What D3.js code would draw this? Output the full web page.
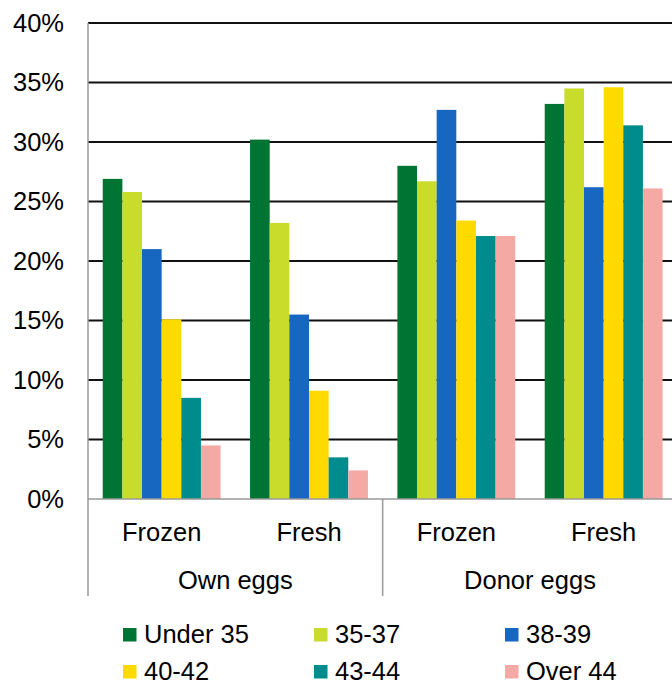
<!DOCTYPE html>
<html>
<head>
<meta charset="utf-8">
<script src="https://cdn.jsdelivr.net/npm/d3@7"></script>
<style>
  html, body { margin: 0; padding: 0; background: #fff; }
  svg { display: block; font-family: "Liberation Sans", Arial, Helvetica, sans-serif; }
</style>
</head>
<body>
<svg id="chart" width="672" height="684"></svg>
<script>
const groups = ["Own eggs", "Donor eggs"];
const categories = ["Frozen", "Fresh", "Frozen", "Fresh"];
const categoryGroup = [0, 0, 1, 1];
const seriesNames = ["Under 35", "35-37", "38-39", "40-42", "43-44", "Over 44"];
const seriesColors = ["#007433", "#C9DC2B", "#1767C0", "#FFDA00", "#008C8C", "#F4A9A5"];
const under35 = [26.9, 30.2, 28.0, 33.2];
const s35to37 = [25.8, 23.2, 26.7, 34.5];
const s38to39 = [21.0, 15.5, 32.7, 26.2];
const s40to42 = [15.1, 9.1, 23.4, 34.6];
const s43to44 = [8.5, 3.5, 22.1, 31.4];
const over44 = [4.5, 2.4, 22.1, 26.1];
const seriesValues = [under35, s35to37, s38to39, s40to42, s43to44, over44];
const yTicks = [0, 5, 10, 15, 20, 25, 30, 35, 40];

(function () {
const svg = d3.select("#chart");
const pLeft = 88, pRight = 677.3, pTop = 23, pBottom = 499;
const fs = 25.5;

const x = d3.scaleBand().domain(d3.range(categories.length)).range([pLeft, pRight])
  .paddingInner(0.2).paddingOuter(0.1);
const xi = d3.scaleBand().domain(d3.range(seriesNames.length)).range([0, x.bandwidth()]);
const y = d3.scaleLinear().domain([0, 40]).range([pBottom, pTop]);

// gridlines
svg.append("g").selectAll("line").data(yTicks.filter(t => t > 0)).join("line")
  .attr("x1", pLeft).attr("x2", pRight)
  .attr("y1", d => y(d)).attr("y2", d => y(d))
  .attr("stroke", "#111").attr("stroke-width", 2);

// y labels
svg.append("g").selectAll("text").data(yTicks).join("text")
  .attr("x", 64).attr("y", d => y(d)).attr("dy", "0.35em")
  .attr("text-anchor", "end").attr("font-size", fs).attr("fill", "#000")
  .text(d => d + "%");

// bars
const cg = svg.append("g").selectAll("g").data(categories).join("g")
  .attr("transform", (d, i) => `translate(${x(i)},0)`);
cg.selectAll("rect").data((d, i) => seriesValues.map((s, k) => ({k, v: s[i]}))).join("rect")
  .attr("x", d => xi(d.k)).attr("width", xi.bandwidth())
  .attr("y", d => y(d.v)).attr("height", d => pBottom - y(d.v))
  .attr("fill", d => seriesColors[d.k]);

// axes lines
const axisColor = "#999";
svg.append("line").attr("x1", pLeft).attr("x2", pRight).attr("y1", pBottom).attr("y2", pBottom)
  .attr("stroke", axisColor).attr("stroke-width", 1.5);
svg.append("line").attr("x1", pLeft).attr("x2", pLeft).attr("y1", pTop).attr("y2", 596)
  .attr("stroke", axisColor).attr("stroke-width", 1.5);
const sepX = x(2) - x.step() * x.paddingInner() / 2;
svg.append("line").attr("x1", sepX).attr("x2", sepX).attr("y1", pBottom).attr("y2", 596)
  .attr("stroke", axisColor).attr("stroke-width", 1.5);

// category labels
svg.append("g").selectAll("text").data(categories).join("text")
  .attr("x", (d, i) => x(i) + x.bandwidth() / 2).attr("y", 541)
  .attr("text-anchor", "middle").attr("font-size", fs).attr("fill", "#000")
  .text(d => d);

// group labels
const groupCenters = groups.map((g, gi) => {
  const a = gi === 0 ? pLeft : sepX;
  const b = gi === groups.length - 1 ? pRight : sepX;
  return (a + b) / 2;
});
svg.append("g").selectAll("text").data(groups).join("text")
  .attr("x", (d, i) => groupCenters[i]).attr("y", 589)
  .attr("text-anchor", "middle").attr("font-size", fs).attr("fill", "#000")
  .text(d => d);

// legend
const legX = [123, 314, 505];
const legY = [643, 680];
const leg = svg.append("g").selectAll("g").data(seriesNames).join("g")
  .attr("transform", (d, i) => `translate(${legX[i % 3]},${legY[Math.floor(i / 3)]})`);
leg.append("rect").attr("x", 0).attr("y", -15).attr("width", 13.5).attr("height", 13.5)
  .attr("fill", (d, i) => seriesColors[i]);
leg.append("text").attr("x", 21).attr("y", 0).attr("font-size", fs).attr("fill", "#000")
  .text(d => d);
})();
</script>
</body>
</html>
